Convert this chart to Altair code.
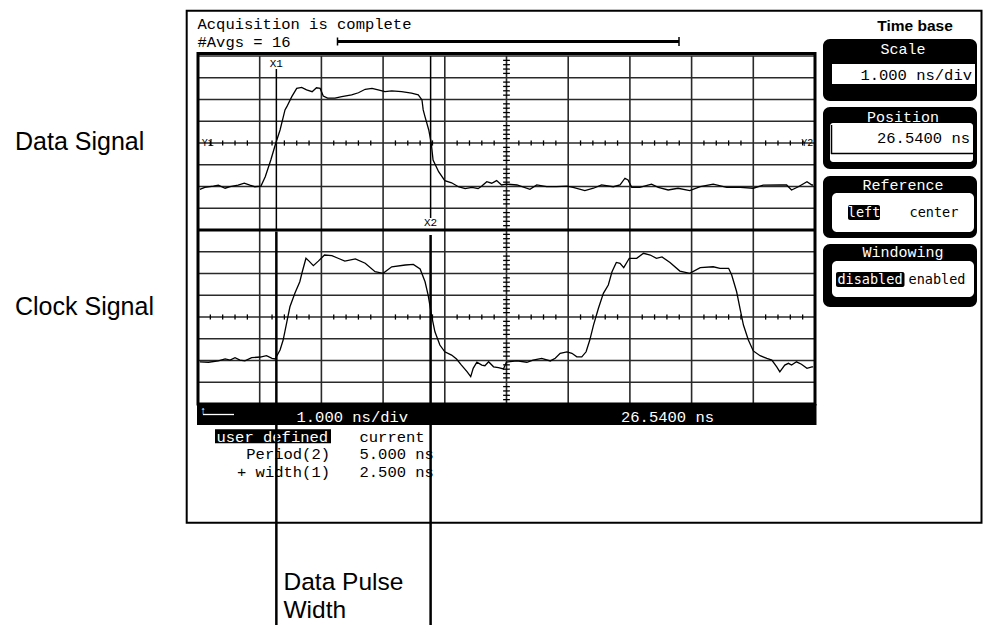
import altair as alt
import pandas as pd

# ---------------- values read from the screen ----------------
# time in ns from the left edge of the graticule (1.000 ns/div, 10 divisions)
# amplitude in divisions relative to each channel's centre line
data_t = [0.03, 0.11, 0.25, 0.33, 0.44, 0.52, 0.65, 0.75, 0.84, 0.92,
          1.02, 1.09, 1.18, 1.26, 1.33, 1.41, 1.44, 1.52, 1.60, 1.68,
          1.76, 1.85, 1.92, 1.98, 2.03, 2.10, 2.22, 2.33, 2.49, 2.60,
          2.71, 2.82, 2.92, 3.03, 3.14, 3.30, 3.46, 3.57, 3.63, 3.65,
          3.68, 3.74, 3.78, 3.81, 3.90, 4.00, 4.11, 4.22, 4.33, 4.44,
          4.54, 4.60, 4.68, 4.76, 4.84, 4.92, 5.00, 5.17, 5.38, 5.49,
          5.65, 5.81, 5.98, 6.08, 6.27, 6.41, 6.54, 6.73, 6.84, 6.92,
          6.97, 7.03, 7.16, 7.35, 7.46, 7.62, 7.78, 7.97, 8.14, 8.35,
          8.57, 8.79, 9.00, 9.16, 9.43, 9.54, 9.62, 9.73, 9.87, 9.95, 9.97]
data_v = [-2.13, -2.04, -1.98, -1.94, -2.08, -2.01, -1.94, -1.85, -1.94, -2.01,
          -1.98, -1.55, -0.78, -0.01, 0.60, 1.52, 1.67, 2.13, 2.51, 2.56,
          2.44, 2.36, 2.54, 2.51, 2.16, 2.06, 2.06, 2.13, 2.21, 2.31,
          2.47, 2.51, 2.44, 2.36, 2.40, 2.36, 2.29, 2.21, 1.98, 1.52,
          1.20, 0.60, -0.01, -0.78, -1.32, -1.73, -1.83, -2.01, -2.10, -2.04,
          -2.10, -1.98, -1.78, -1.85, -1.73, -1.93, -1.89, -1.93, -2.13, -1.93,
          -2.01, -2.01, -1.98, -2.04, -2.19, -2.08, -1.93, -2.01, -1.93, -1.62,
          -1.70, -2.04, -2.04, -1.89, -2.04, -2.16, -2.08, -2.19, -2.01, -1.89,
          -2.04, -2.04, -2.08, -1.94, -1.93, -1.93, -2.16, -2.01, -1.78, -1.93, -1.93]

clock_t = [0.03, 0.17, 0.33, 0.44, 0.52, 0.60, 0.68, 0.76, 0.87, 1.01,
           1.11, 1.20, 1.25, 1.33, 1.38, 1.44, 1.49, 1.57, 1.65, 1.69,
           1.75, 1.80, 1.87, 1.95, 2.05, 2.17, 2.27, 2.38, 2.55, 2.71,
           2.87, 3.00, 3.14, 3.36, 3.49, 3.60, 3.68, 3.73, 3.79, 3.84,
           3.92, 4.00, 4.11, 4.19, 4.27, 4.36, 4.42, 4.46, 4.52, 4.60,
           4.65, 4.71, 4.79, 4.87, 4.95, 5.00, 5.17, 5.33, 5.43, 5.57,
           5.71, 5.79, 5.87, 5.98, 6.06, 6.14, 6.22, 6.29, 6.35, 6.41,
           6.49, 6.57, 6.65, 6.71, 6.78, 6.84, 6.90, 6.99, 7.11, 7.22,
           7.33, 7.43, 7.52, 7.65, 7.81, 7.97, 8.14, 8.35, 8.46, 8.60,
           8.65, 8.73, 8.79, 8.84, 8.92, 9.00, 9.11, 9.22, 9.30, 9.38,
           9.43, 9.51, 9.57, 9.62, 9.70, 9.78, 9.87, 9.95, 9.97]
clock_v = [-2.06, -2.08, -2.02, -1.93, -1.98, -1.87, -1.98, -2.02, -1.87, -1.84,
           -1.78, -1.90, -1.93, -1.52, -1.06, -0.22, 0.47, 1.09, 1.62, 2.08,
           2.70, 2.57, 2.36, 2.57, 2.85, 2.82, 2.70, 2.57, 2.67, 2.47,
           2.08, 2.01, 2.31, 2.39, 2.42, 2.21, 1.62, 1.01, 0.01, -0.68,
           -1.29, -1.60, -1.75, -1.93, -2.21, -2.51, -2.74, -2.36, -2.08, -2.21,
           -2.24, -2.06, -2.29, -2.33, -2.39, -2.07, -2.02, -2.08, -1.98, -1.90,
           -2.02, -1.90, -1.67, -1.60, -1.67, -1.83, -1.83, -1.60, -1.06, -0.37,
           0.40, 1.09, 1.47, 2.08, 2.51, 2.47, 2.27, 2.70, 2.70, 2.93,
           2.85, 2.70, 2.76, 2.51, 2.11, 2.01, 2.27, 2.31, 2.24, 2.24,
           1.93, 1.16, 0.32, -0.37, -1.06, -1.56, -1.78, -1.90, -1.98, -2.29,
           -2.52, -2.21, -2.13, -2.21, -2.06, -2.17, -2.36, -2.29, -2.29]

cursor_x1 = 1.27
cursor_x2 = 3.77

n_div_x = 10
n_div_y = 16
data_centre = 12
clock_centre = 4

status_scale = "1.000 ns/div"
status_position = "26.5400 ns"
meas_names = ["Period(2)", "+ width(1)"]
meas_values = ["5.000 ns", "2.500 ns"]

# ---------------- layout ----------------
W, H = 975, 617
MARGIN = 8
GX0, GX1 = 198.0, 815.0   # page px of graticule left / right
GY0, GY1 = 404.0, 56.0    # page px of graticule bottom / top
px_ns = (GX1 - GX0) / n_div_x
px_div = (GY0 - GY1) / n_div_y
x_dom = [(MARGIN - GX0) / px_ns, (MARGIN + W - GX0) / px_ns]
y_dom = [(GY0 - (MARGIN + H)) / px_div, (GY0 - MARGIN) / px_div]

XS = alt.Scale(domain=x_dom, nice=False, zero=False)
YS = alt.Scale(domain=y_dom, nice=False, zero=False)

MONO = "Liberation Mono"
SANS = "Liberation Sans"
GRID = "#2a2a2a"

one = pd.DataFrame({"k": [0]})


def pv(v):
    return alt.value(v - MARGIN)


def X(f):
    return alt.X(f, type="quantitative", scale=XS, axis=None)


def Y(f):
    return alt.Y(f, type="quantitative", scale=YS, axis=None)


def text_px(s, x, y, size=15.5, color="black", align="left", font=MONO,
            weight="normal", baseline="middle"):
    return alt.Chart(one).mark_text(
        text=s, align=align, baseline=baseline, fontSize=size, font=font,
        color=color, fontWeight=weight
    ).encode(x=pv(x), y=pv(y))


def rect_px(x1, y1, x2, y2, fill="black", r=0, stroke="", sw=0):
    kw = dict(fill=fill, cornerRadius=r)
    if stroke:
        kw.update(stroke=stroke, strokeWidth=sw)
    else:
        kw.update(strokeWidth=0)
    return alt.Chart(one).mark_rect(**kw).encode(
        x=pv(x1), x2=pv(x2), y=pv(y1), y2=pv(y2))


def hrule_px(x1, x2, y, w=1.5, color="black"):
    return alt.Chart(one).mark_rule(color=color, strokeWidth=w).encode(
        x=pv(x1), x2=pv(x2), y=pv(y))


def vrule_px(x, y1, y2, w=1.5, color="black"):
    return alt.Chart(one).mark_rule(color=color, strokeWidth=w).encode(
        x=pv(x), y=pv(y1), y2=pv(y2))


layers = []

# ---- graticule ----
vgrid = pd.DataFrame({"t": list(range(n_div_x + 1))})
vgrid["y0"] = 0
vgrid["y1"] = n_div_y
layers.append(alt.Chart(vgrid).mark_rule(color=GRID, strokeWidth=1.6).encode(
    x=X("t"), y=Y("y0"), y2="y1"))
hgrid = pd.DataFrame({"y": list(range(n_div_y + 1))})
hgrid["t0"] = 0
hgrid["t1"] = n_div_x
layers.append(alt.Chart(hgrid).mark_rule(color=GRID, strokeWidth=1.6).encode(
    x=X("t0"), x2="t1", y=Y("y")))

# minor ticks on the channel centre lines
ht = [(k * 0.2, c) for c in (data_centre, clock_centre) for k in range(1, 5 * n_div_x) if k % 5]
htdf = pd.DataFrame({"t": [a for a, _ in ht], "c": [b for _, b in ht]})
htdf["y0"] = htdf["c"] - 0.12
htdf["y1"] = htdf["c"] + 0.12
layers.append(alt.Chart(htdf).mark_rule(color="black", strokeWidth=1.3).encode(
    x=X("t"), y=Y("y0"), y2="y1"))
# minor ticks on the centre vertical line
vt = [k * 0.2 for k in range(1, 5 * n_div_y) if k % 5]
vtdf = pd.DataFrame({"y": vt})
vtdf["t0"] = n_div_x / 2 - 0.055
vtdf["t1"] = n_div_x / 2 + 0.055
layers.append(alt.Chart(vtdf).mark_rule(color="black", strokeWidth=1.3).encode(
    x=X("t0"), x2="t1", y=Y("y")))

# ---- waveforms ----
wave = pd.DataFrame({
    "t": data_t + clock_t,
    "v": [v + data_centre for v in data_v] + [v + clock_centre for v in clock_v],
    "ch": ["data"] * len(data_t) + ["clock"] * len(clock_t),
})
layers.append(alt.Chart(wave).mark_line(color="black", strokeWidth=1.3).encode(
    x=X("t"), y=Y("v"), detail="ch:N"))

# ---- cursors in the upper half (thin) ----
cur_top = pd.DataFrame({"t": [cursor_x1, cursor_x2],
                        "y0": [(GY0 - 69) / px_div, (GY0 - 218) / px_div],
                        "y1": [n_div_y / 2, n_div_y]})
layers.append(alt.Chart(cur_top).mark_rule(color="black", strokeWidth=1.5).encode(
    x=X("t"), y=Y("y0"), y2="y1"))
cur_lab = pd.DataFrame({"t": [cursor_x1, cursor_x2], "lab": ["X1", "X2"],
                        "y": [(GY0 - 63.5) / px_div, (GY0 - 222.5) / px_div]})
layers.append(alt.Chart(cur_lab).mark_text(font=MONO, fontSize=11, color="black",
                                           baseline="middle").encode(
    x=X("t"), y=Y("y"), text="lab:N"))

# Y markers
ylab = pd.DataFrame({"t": [0.06], "y": [data_centre], "lab": ["Y1"]})
layers.append(alt.Chart(ylab).mark_text(font=MONO, fontSize=10, align="left",
                                        baseline="middle").encode(
    x=X("t"), y=Y("y"), text="lab:N"))
ylab2 = pd.DataFrame({"t": [n_div_x - 0.03], "y": [data_centre], "lab": ["Y2"]})
layers.append(alt.Chart(ylab2).mark_text(font=MONO, fontSize=10, align="right",
                                         baseline="middle").encode(
    x=X("t"), y=Y("y"), text="lab:N"))

# ---- thick frame of the graticule and divider ----
frame = pd.DataFrame({"t0": [0], "t1": [n_div_x], "y0": [0], "y1": [n_div_y + 0.12]})
layers.append(alt.Chart(frame).mark_rect(fill="transparent", stroke="black", strokeWidth=3).encode(
    x=X("t0"), x2="t1", y=Y("y0"), y2="y1"))
div_df = pd.DataFrame({"t0": [0], "t1": [n_div_x], "y": [n_div_y / 2]})
layers.append(alt.Chart(div_df).mark_rule(color="black", strokeWidth=3).encode(
    x=X("t0"), x2="t1", y=Y("y")))

# ---- status bar ----
layers.append(rect_px(197, 404, 816.5, 425))
layers.append(text_px("\u2191", 203, 411, size=11, color="white", align="center"))
layers.append(hrule_px(203, 234, 414.5, w=1.3, color="white"))
layers.append(text_px(status_scale, 296.5, 416.5, color="white"))
layers.append(text_px(status_position, 621, 416.5, color="white"))

# ---- header text ----
layers.append(text_px("Acquisition is complete", 197.5, 24))
layers.append(text_px("#Avgs = 16", 197.5, 41.5))
layers.append(hrule_px(337, 679, 41.5, w=3))
layers.append(vrule_px(337.5, 37.5, 45.5, w=1.5))
layers.append(vrule_px(679, 37, 46, w=1.5))

# ---- measurement text ----
layers.append(rect_px(215, 429.3, 331, 443.3))
layers.append(text_px("user defined", 216.5, 436.5, color="white"))
layers.append(text_px("current", 359.5, 436.5))
for i, (nm, val) in enumerate(zip(meas_names, meas_values)):
    yy = 454 + 18 * i
    layers.append(text_px(nm, 330, yy, align="right"))
    layers.append(text_px(val, 359.5, yy))

# ---- cursors in the lower half (thick, continuing below the screen) ----
cur_bot = pd.DataFrame({"t": [cursor_x1, cursor_x2],
                        "y0": [(GY0 - 231.5) / px_div, (GY0 - 235) / px_div],
                        "y1": [y_dom[0], y_dom[0]]})
layers.append(alt.Chart(cur_bot).mark_rule(color="black", strokeWidth=2.5).encode(
    x=X("t"), y=Y("y0"), y2="y1"))

# ---- outer screen frame (right edge held just inside the page) ----
layers.append(rect_px(186.7, 10.7, 981.5, 522.7, fill="transparent", stroke="black", sw=2))

# ---- right-hand softkey panels ----
layers.append(text_px("Time base", 915, 25.5, size=15.5, font=SANS, weight="bold", align="center"))
# Scale
layers.append(rect_px(823, 39, 977, 101, r=7))
layers.append(text_px("Scale", 903, 48.5, size=15, color="white", align="center"))
layers.append(rect_px(832, 64, 975, 84, fill="white"))
layers.append(text_px(status_scale, 972, 74.5, align="right"))
# Position
layers.append(rect_px(823, 107, 977, 169, r=7))
layers.append(text_px("Position", 903, 117, size=15, color="white", align="center"))
layers.append(rect_px(830, 123, 973, 162, fill="white", r=3))
layers.append(vrule_px(831.5, 125, 154, w=1.5))
layers.append(hrule_px(831, 973, 153.5, w=1.5))
layers.append(text_px(status_position, 970, 137.5, align="right"))
# Reference
layers.append(rect_px(823, 176, 977, 238, r=7))
layers.append(text_px("Reference", 903, 184.5, size=15, color="white", align="center"))
layers.append(rect_px(832, 193, 974, 232, fill="white", r=5))
layers.append(rect_px(848, 205, 880, 220, r=2))
layers.append(text_px("left", 864, 212.5, size=13.5, font="DejaVu Sans Mono", color="white", align="center"))
layers.append(text_px("center", 934, 212.5, size=13.5, font="DejaVu Sans Mono", align="center"))
# Windowing
layers.append(rect_px(823, 244, 977, 307, r=7))
layers.append(text_px("Windowing", 903, 252, size=15, color="white", align="center"))
layers.append(rect_px(832, 261, 974, 297, fill="white", r=5))
layers.append(rect_px(836, 272, 904.5, 287, r=2))
layers.append(text_px("disabled", 870, 279.5, size=13.5, font="DejaVu Sans Mono", color="white", align="center"))
layers.append(text_px("enabled", 937, 279.5, size=13.5, font="DejaVu Sans Mono", align="center"))

# ---- annotation labels ----
layers.append(text_px("Data Signal", 15, 149.5, size=25, font=SANS, baseline="alphabetic"))
layers.append(text_px("Clock Signal", 15, 314.5, size=25, font=SANS, baseline="alphabetic"))
layers.append(text_px("Data Pulse", 283.5, 590, size=24.5, font=SANS, baseline="alphabetic"))
layers.append(text_px("Width", 283.5, 618, size=24.5, font=SANS, baseline="alphabetic"))

chart = alt.layer(*layers).properties(
    width=W, height=H,
    autosize=alt.AutoSizeParams(type="none", contains="padding"),
    padding=0,
    background="white",
).configure_view(stroke="transparent")

chart.save("out.html", embed_options={"renderer": "svg", "actions": False})
